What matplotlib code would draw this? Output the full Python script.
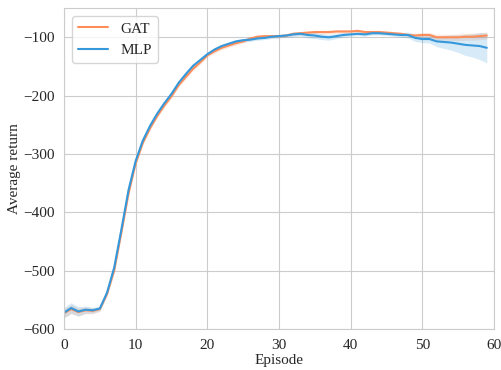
import numpy as np
import matplotlib
matplotlib.use("Agg")
import matplotlib.pyplot as plt
import seaborn as sns

sns.set_style("whitegrid")
plt.rcParams['font.family'] = ['Liberation Serif', 'DejaVu Serif']
plt.rcParams['mathtext.fontset'] = 'stix'

episodes = np.arange(60)

gat_mean = [-573, -566, -571, -568, -569, -566, -540, -500, -435, -368,
            -316, -281, -256, -235, -217, -201, -182, -168, -154, -143,
            -131, -124, -118, -114, -110, -107, -102, -99, -98, -98,
            -98, -97, -94, -93, -92, -91, -91, -91, -90, -90,
            -90, -89, -91, -91, -91, -92, -93, -94, -96, -97,
            -96, -96, -100, -100, -100, -100, -99, -99, -98, -97]
gat_std = [8, 8, 7, 6, 5, 4, 4, 4, 4, 4,
           3, 3, 3, 3, 3, 3, 3, 3, 3, 3,
           3, 3, 3, 3, 3, 3, 3, 3, 3, 3,
           3, 3, 3, 3, 3, 3, 3, 3, 3, 3,
           3, 3, 3, 3, 3, 3, 3, 3, 3, 4,
           4, 4, 5, 5, 5, 6, 6, 6, 6, 6]

mlp_mean = [-572, -564, -570, -567, -568, -565, -538, -495, -430, -362,
            -312, -277, -252, -231, -213, -197, -178, -163, -149, -139,
            -129, -121, -115, -111, -107, -105, -104, -102, -101, -99,
            -98, -97, -95, -94, -96, -97, -99, -100, -98, -96,
            -95, -94, -95, -93, -93, -94, -95, -96, -96, -101,
            -103, -103, -107, -108, -109, -111, -113, -114, -115, -118]
mlp_std = [9, 9, 8, 6, 5, 4, 4, 4, 4, 4,
           3, 3, 3, 3, 3, 3, 3, 3, 3, 3,
           3, 3, 3, 3, 3, 3, 3, 3, 3, 3,
           3, 3, 4, 4, 5, 5, 5, 5, 4, 4,
           3, 3, 3, 3, 3, 3, 3, 4, 5, 6,
           6, 7, 9, 11, 13, 15, 18, 20, 23, 26]

gat_color = '#fc8d59'
mlp_color = '#3498db'

fig = plt.figure(figsize=(5.02, 3.70), dpi=100)
ax = fig.add_axes([0.1275, 0.111, 0.8565, 0.867])

for mean, std, color, label in [(gat_mean, gat_std, gat_color, 'GAT'),
                                (mlp_mean, mlp_std, mlp_color, 'MLP')]:
    mean = np.array(mean, dtype=float)
    std = np.array(std, dtype=float)
    ax.plot(episodes, mean, color=color, lw=1.5, label=label)
    ax.fill_between(episodes, mean - std, mean + std, color=color, alpha=0.2, lw=0)

ax.set_xlim(0, 60)
ax.set_ylim(-600, -50)
ax.set_xticks([0, 10, 20, 30, 40, 50, 60])
ax.set_yticks([-600, -500, -400, -300, -200, -100])
ax.tick_params(labelsize=11)
ax.set_xlabel('Episode', fontsize=11, labelpad=2)
ax.set_ylabel('Average return', fontsize=11, labelpad=1)
ax.legend(loc='upper left', fontsize=11)

fig.savefig('out.png', dpi=100)
